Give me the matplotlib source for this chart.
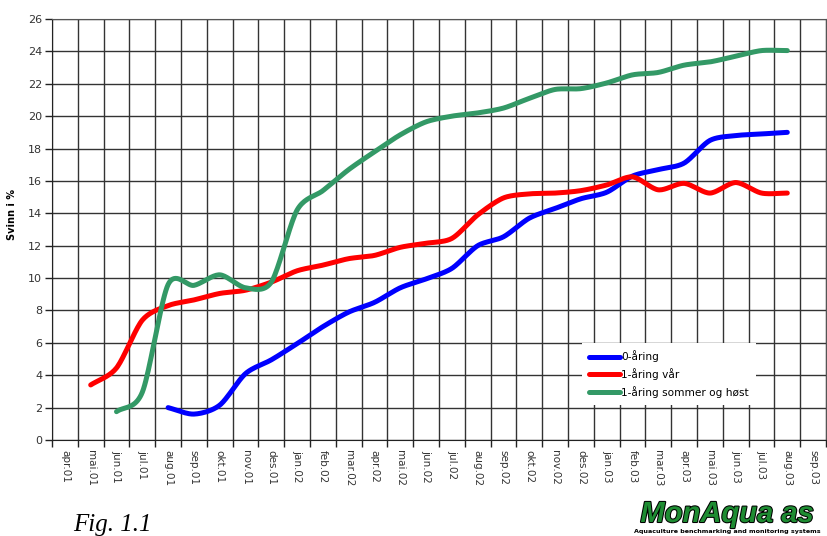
import numpy as np
import matplotlib
matplotlib.use('Agg')
import matplotlib.pyplot as plt
import matplotlib.patheffects as pe

# months on the category axis
months = ['apr.01', 'mai.01', 'jun.01', 'jul.01', 'aug.01', 'sep.01', 'okt.01', 'nov.01', 'des.01',
          'jan.02', 'feb.02', 'mar.02', 'apr.02', 'mai.02', 'jun.02', 'jul.02', 'aug.02', 'sep.02',
          'okt.02', 'nov.02', 'des.02',
          'jan.03', 'feb.03', 'mar.03', 'apr.03', 'mai.03', 'jun.03', 'jul.03', 'aug.03', 'sep.03']

# 0-åring: aug.01 .. aug.03
blue_start = 4
blue_vals = [2.0, 1.6, 2.15, 4.1, 4.95, 5.95, 7.0, 7.9, 8.5, 9.4, 9.95, 10.6, 12.0, 12.55,
             13.7, 14.3, 14.9, 15.3, 16.3, 16.7, 17.1, 18.5, 18.8, 18.9, 19.0]

# 1-åring vår: mai.01 .. aug.03
red_start = 1
red_vals = [3.4, 4.45, 7.4, 8.3, 8.65, 9.05, 9.25, 9.75, 10.45, 10.8, 11.2, 11.4, 11.9, 12.15,
            12.45, 13.9, 14.95, 15.2, 15.25, 15.4, 15.75, 16.25, 15.45, 15.85, 15.25, 15.9,
            15.25, 15.25]

# 1-åring sommer og høst: jun.01 .. aug.03
green_start = 2
green_vals = [1.75, 2.95, 9.6, 9.55, 10.2, 9.4, 9.75, 14.2, 15.4, 16.7, 17.8, 18.85, 19.65,
              20.0, 20.2, 20.5, 21.1, 21.65, 21.7, 22.05, 22.55, 22.7, 23.15, 23.35, 23.7,
              24.05, 24.05]


def smooth(xs, ys, n=20, k=0.42):
    # cardinal spline, roughly like excel's smoothed line
    xs = np.asarray(xs, float)
    ys = np.asarray(ys, float)
    px = np.concatenate([[2 * xs[0] - xs[1]], xs, [2 * xs[-1] - xs[-2]]])
    py = np.concatenate([[2 * ys[0] - ys[1]], ys, [2 * ys[-1] - ys[-2]]])
    outx, outy = [], []
    t = np.linspace(0, 1, n, endpoint=False)
    h00 = 2 * t ** 3 - 3 * t ** 2 + 1
    h10 = t ** 3 - 2 * t ** 2 + t
    h01 = -2 * t ** 3 + 3 * t ** 2
    h11 = t ** 3 - t ** 2
    for i in range(1, len(px) - 2):
        for p, out in ((px, outx), (py, outy)):
            m1 = k * (p[i + 1] - p[i - 1])
            m2 = k * (p[i + 2] - p[i])
            out.extend(h00 * p[i] + h10 * m1 + h01 * p[i + 1] + h11 * m2)
    outx.append(xs[-1])
    outy.append(ys[-1])
    return outx, outy


fig = plt.figure(figsize=(8.27, 5.36), dpi=100)
ax = fig.add_axes([52 / 827, 96 / 536, 774 / 827, 421 / 536])

series = [(blue_start, blue_vals, '#0000ff', '0-åring'),
          (red_start, red_vals, '#ff0000', '1-åring vår'),
          (green_start, green_vals, '#339966', '1-åring sommer og høst')]
for start, vals, col, name in series:
    xs = np.arange(start, start + len(vals)) + 0.5
    sx, sy = smooth(xs, vals)
    ax.plot(sx, sy, color=col, lw=3.6, solid_capstyle='round', label=name, zorder=3)

ax.set_xlim(0, len(months))
ax.set_ylim(0, 26)
ax.set_yticks(np.arange(0, 27, 2))
ax.set_xticks(np.arange(0, len(months) + 1))
ax.set_xticklabels([])
ax.set_xticks(np.arange(len(months)) + 0.5, minor=True)
ax.set_xticklabels(months, minor=True, rotation=270, fontsize=7.5, color='#333333')
ax.tick_params(axis='x', which='minor', length=0, pad=7)
ax.tick_params(axis='x', which='major', length=5, width=1, color='#222222')
ax.tick_params(axis='y', length=5, width=1, color='#222222', labelsize=8, labelcolor='#333333', pad=2)
ax.grid(True, which='major', color='#333333', lw=1)
for s in ax.spines.values():
    s.set_color('#555555')
ax.spines['bottom'].set_color('#222222')
ax.spines['left'].set_color('#222222')

ax.set_ylabel('Svinn i %', fontsize=7, fontweight='bold')
ax.yaxis.set_label_coords(-0.045, 0.535)

leg = ax.legend(loc='upper left', bbox_to_anchor=(582 / 827, 1 - 343 / 536),
                bbox_transform=fig.transFigure, frameon=True, fontsize=7.6,
                handlelength=2.9, handletextpad=0.1, labelspacing=0.55,
                borderaxespad=0, borderpad=0.7, fancybox=False)
leg.get_frame().set_edgecolor('none')
leg.get_frame().set_facecolor('white')
leg.get_frame().set_alpha(1)
leg.set_zorder(5)

fig.text(73 / 827, 1 - 531 / 536, 'Fig. 1.1', fontsize=18, family='Liberation Serif',
         style='italic', va='baseline')

logo = fig.text(727 / 827, 1 - 522 / 536, 'MonAqua as', fontsize=21, family='Liberation Sans',
                style='italic', weight='bold', color='#1e8c32', ha='center', va='baseline')
logo.set_path_effects([pe.withStroke(linewidth=1.5, foreground='black')])
fig.text(727 / 827, 1 - 533 / 536, 'Aquaculture benchmarking and monitoring systems',
         fontsize=4.6, weight='bold', ha='center', va='baseline')

fig.savefig('out.png', dpi=100)
